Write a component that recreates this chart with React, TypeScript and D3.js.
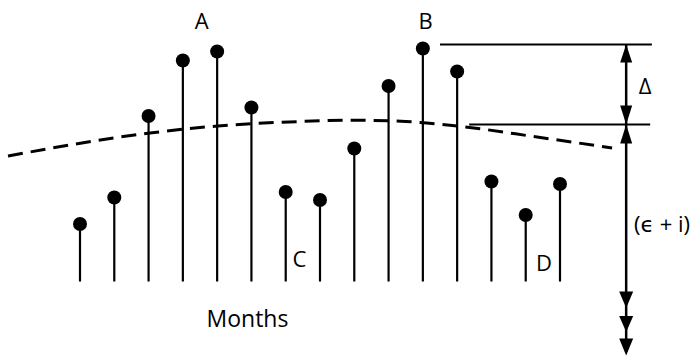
import React from "react";
import * as d3 from "d3";

const W = 697;
const H = 356;

// stem plot: month index and value (height above baseline)
const months = [1, 2, 3, 4, 5, 6, 7, 8, 9, 10, 11, 12, 13, 14, 15];
const values = [57.5, 84, 165.5, 221, 230, 174, 89.5, 81.5, 133, 195.5, 233, 210, 100, 66.5, 97.5];

// dashed trend curve
const trendMonths = [-1.1, 3.04, 5.02, 7.42, 9.0, 10.5, 12.0, 14.33, 16.52];
const trendValues = [125.5, 148.5, 155.5, 160, 161.3, 160, 155.5, 144.5, 133.5];

// labels
const pointLabels = ["A", "B", "C", "D"];
const pointLabelMonths = [4.55, 11.08, 7.4, 14.53];
const pointLabelValues = [261.5, 261.5, 23.5, 19.5];

const axisLabel = "Months";
const deltaLabel = "Δ";
const errLabel = "(ϵ + i)";

// annotation levels
const deltaTop = 237;
const deltaBottom = 157;

export default function App() {
  const x = d3.scaleLinear().domain([1, 15]).range([80, 560]);
  const y = d3.scaleLinear().domain([0, 250]).range([281.5, 31.5]);

  const line = d3
    .line<number>()
    .x((_, i) => x(trendMonths[i]))
    .y((d) => y(d))
    .curve(d3.curveMonotoneX);

  const vx = x(16.93);
  const yTop = y(deltaTop);
  const yMid = y(deltaBottom);
  const font = "'Open Sans', 'DejaVu Sans', sans-serif";

  const tri = (cx: number, tip: number, base: number, hw: number) =>
    `M${cx},${tip}L${cx - hw},${base}L${cx + hw},${base}Z`;

  const bottomTips = [308, 332, 355.5];
  const bottomBases = [291.5, 316, 338.5];

  return (
    <svg
      width={W}
      height={H}
      style={{ position: "absolute", left: 0, top: 0, background: "#fff" }}
    >
      <rect width={W} height={H} fill="#fff" />
      {/* trend */}
      <path
        d={line(trendValues) || ""}
        fill="none"
        stroke="#000"
        strokeWidth={3}
        strokeDasharray="15 8"
      />
      {/* stems */}
      {months.map((m, i) => (
        <g key={m}>
          <line x1={x(m)} x2={x(m)} y1={y(0)} y2={y(values[i])} stroke="#000" strokeWidth={2.2} />
          <circle cx={x(m)} cy={y(values[i])} r={7} fill="#000" />
        </g>
      ))}
      {/* annotation lines */}
      <line x1={x(11.5)} x2={x(17.68)} y1={yTop} y2={yTop} stroke="#000" strokeWidth={2} />
      <line x1={x(12.35)} x2={x(17.63)} y1={yMid} y2={yMid} stroke="#000" strokeWidth={2} />
      <line x1={vx} x2={vx} y1={yTop} y2={352} stroke="#000" strokeWidth={2.5} />
      <path d={tri(vx, yTop, yTop + 18, 6)} fill="#000" />
      <path d={tri(vx, yMid, yMid - 19, 6)} fill="#000" />
      <path d={tri(vx, yMid, yMid + 19, 6)} fill="#000" />
      {bottomTips.map((t, i) => (
        <path key={i} d={tri(vx, t, bottomBases[i], 7)} fill="#000" />
      ))}
      {/* texts */}
      {pointLabels.map((l, i) => (
        <text
          key={l}
          x={x(pointLabelMonths[i])}
          y={y(pointLabelValues[i])}
          textAnchor="middle"
          dominantBaseline="central"
          fontFamily={font}
          fontSize={22}
        >
          {l}
        </text>
      ))}
      <text x={247.5} y={318} textAnchor="middle" dominantBaseline="central" fontFamily={font} fontSize={23}>
        {axisLabel}
      </text>
      <text x={645} y={85} textAnchor="middle" dominantBaseline="central" fontFamily={font} fontSize={22}>
        {deltaLabel}
      </text>
      <text x={634} y={223} textAnchor="start" dominantBaseline="central" fontFamily={font} fontSize={22}>
        {errLabel}
      </text>
    </svg>
  );
}
